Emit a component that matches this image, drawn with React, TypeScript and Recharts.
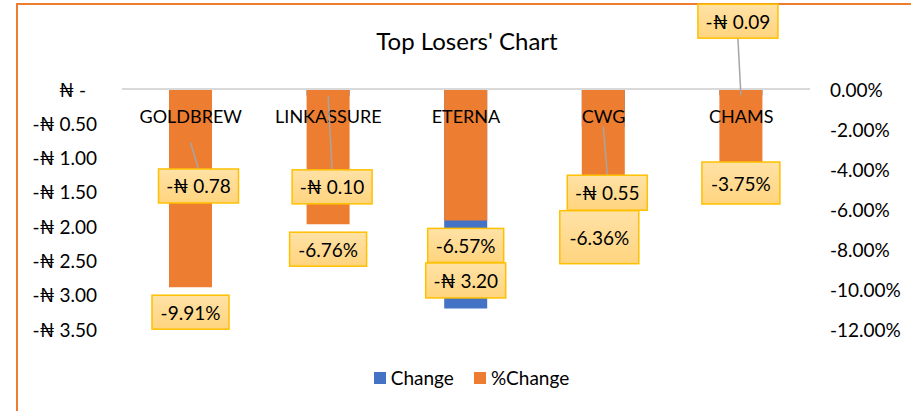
import React from 'react';
import { BarChart, Bar, XAxis, YAxis, ReferenceLine, LabelList, Legend } from 'recharts';

const categories = ['GOLDBREW', 'LINKASSURE', 'ETERNA', 'CWG', 'CHAMS'];
const changeValues = [-0.78, -0.1, -3.2, -0.55, -0.09];
const pctChangeValues = [-9.91, -6.76, -6.57, -6.36, -3.75];
const leftTicks = [0, -0.5, -1, -1.5, -2, -2.5, -3, -3.5];
const rightTicks = [0, -2, -4, -6, -8, -10, -12];
const legendOrder = ['Change', '%Change'];

// label layout (relative to bar end), not data
const changeLabelLayout = [
  { dx: 8, dy: 43.5, w: 80, h: 34, leader: true },
  { dx: 4, dy: 91, w: 80, h: 34, leader: true },
  { dx: 0, dy: -28, w: 80, h: 35, leader: false },
  { dx: 4, dy: 66, w: 80, h: 35, leader: true },
  { dx: -3, dy: -74, w: 80, h: 34, leader: true },
];
const pctLabelLayout = [
  { dx: 0, dy: 25, w: 77, h: 34 },
  { dx: 0, dy: 25, w: 77, h: 34 },
  { dx: 0, dy: 25, w: 76, h: 34 },
  { dx: -4, dy: 21, w: 79, h: 53 },
  { dx: 0, dy: 19, w: 78, h: 42 },
];

const data = categories.map((name, i) => ({
  name,
  change: changeValues[i],
  pct: pctChangeValues[i],
}));

const FONT = 'Lato, "DejaVu Sans", sans-serif';
const BLUE = '#4472C4';
const ORANGE = '#ED7D31';

const fmtMoney = (v: number) => (v === 0 ? '₦ -' : '-₦ ' + Math.abs(v).toFixed(2));
const fmtPct = (v: number) => v.toFixed(2) + '%';

function BoxLabel(props: any) {
  const { x, y, width, height, value, index, layout, text, bg } = props;
  const L = layout[index];
  const cx = Number(x) + Number(width) / 2;
  const endY = Math.max(Number(y), Number(y) + Number(height));
  const bx = cx + L.dx;
  const by = endY + L.dy;
  const top = by - L.h / 2;
  const bottom = by + L.h / 2;
  let lineEndY = top;
  if (by < endY) lineEndY = bottom;
  return (
    <g>
      {L.leader ? (
        <line x1={cx} y1={endY} x2={bx} y2={lineEndY} stroke="#A5A5A5" strokeWidth={1.5} />
      ) : null}
      <rect
        x={bx - L.w / 2}
        y={top}
        width={L.w}
        height={L.h}
        fill={`url(#${bg})`}
        stroke="#FFC000"
        strokeWidth={1.5}
      />
      <text
        x={bx}
        y={by}
        textAnchor="middle"
        dominantBaseline="central"
        fontFamily={FONT}
        fontSize={19}
        fill="#000"
      >
        {text(value)}
      </text>
    </g>
  );
}

function LeftTick(props: any) {
  const { x, y, payload } = props;
  const v = payload.value;
  return (
    <text
      x={v === 0 ? x - 11 : x}
      y={y}
      textAnchor="end"
      dominantBaseline="central"
      fontFamily={FONT}
      fontSize={19}
      fill="#000"
    >
      {fmtMoney(v)}
    </text>
  );
}

function RightTick(props: any) {
  const { x, y, payload } = props;
  return (
    <text x={x} y={y} textAnchor="start" dominantBaseline="central" fontFamily={FONT} fontSize={19} fill="#000">
      {fmtPct(payload.value)}
    </text>
  );
}

function CatTick(props: any) {
  const { x, y, payload } = props;
  return (
    <text x={x} y={Number(y) + 27} textAnchor="middle" dominantBaseline="central" fontFamily={FONT} fontSize={18} fill="#000">
      {payload.value}
    </text>
  );
}

function LegendContent(props: any) {
  const items = (props.payload || [])
    .filter((p: any) => p.type !== 'none')
    .slice()
    .sort((a: any, b: any) => legendOrder.indexOf(a.value) - legendOrder.indexOf(b.value));
  return (
    <div style={{ display: 'flex', justifyContent: 'center', paddingLeft: 32, fontFamily: FONT, fontSize: 19 }}>
      {items.map((p: any) => (
        <div key={p.value} style={{ display: 'flex', alignItems: 'center', margin: '0 10px' }}>
          <div style={{ width: 12, height: 12, background: p.color, marginRight: 5 }} />
          <span style={{ color: '#000' }}>{p.value}</span>
        </div>
      ))}
    </div>
  );
}

export default function App() {
  return (
    <div style={{ position: 'absolute', left: 0, top: 0, width: 911, height: 411, overflow: 'hidden', background: '#fff' }}>
      <svg width={0} height={0} style={{ position: 'absolute' }}>
        <defs>
          <linearGradient id="lblbg" x1="0" y1="0" x2="0" y2="1">
            <stop offset="0%" stopColor="#FFE2A6" />
            <stop offset="100%" stopColor="#FFD47E" />
          </linearGradient>
        </defs>
      </svg>
      <div
        style={{
          position: 'absolute',
          left: 16,
          top: 3,
          width: 1000,
          height: 500,
          borderLeft: `2px solid ${ORANGE}`,
          borderTop: `2px solid ${ORANGE}`,
        }}
      />
      <div
        style={{
          position: 'absolute',
          left: 0,
          top: 26,
          width: 934,
          textAlign: 'center',
          fontFamily: FONT,
          fontSize: 24,
          color: '#000',
        }}
      >
        Top Losers' Chart
      </div>
      <div style={{ position: 'absolute', left: 0, top: 0 }}>
        <BarChart
          width={911}
          height={411}
          data={data}
          margin={{ top: 59, left: 22, right: 6, bottom: 82 }}
        >
          <XAxis
            xAxisId="a"
            dataKey="name"
            orientation="top"
            height={30}
            axisLine={false}
            tickLine={false}
            tickSize={0}
            tickMargin={0}
            tick={<CatTick />}
            interval={0}
          />
          <XAxis xAxisId="b" dataKey="name" hide />
          <XAxis xAxisId="c" dataKey="name" hide />
          <YAxis
            yAxisId="left"
            domain={[-3.5, 0]}
            ticks={leftTicks}
            width={100}
            axisLine={false}
            tickLine={false}
            tickSize={0}
            tickMargin={25}
            tick={<LeftTick />}
            interval={0}
          />
          <YAxis
            yAxisId="right"
            orientation="right"
            domain={[-12, 0]}
            ticks={rightTicks}
            width={95}
            axisLine={false}
            tickLine={false}
            tickSize={0}
            tickMargin={20}
            tick={<RightTick />}
            interval={0}
          />
          <ReferenceLine yAxisId="left" xAxisId="a" y={0} stroke="#D9D9D9" strokeWidth={2} />
          <Bar
            xAxisId="a"
            yAxisId="left"
            dataKey="change"
            name="Change"
            fill={BLUE}
            barSize={43}
            isAnimationActive={false}
          />
          <Bar
            xAxisId="b"
            yAxisId="right"
            dataKey="pct"
            name="%Change"
            fill={ORANGE}
            barSize={43}
            isAnimationActive={false}
          >
            <LabelList
              dataKey="pct"
              content={<BoxLabel layout={pctLabelLayout} text={(v: number) => fmtPct(v)} bg="lblbg" />}
            />
          </Bar>
          <Bar
            xAxisId="c"
            yAxisId="left"
            dataKey="change"
            fill="none"
            legendType="none"
            barSize={43}
            isAnimationActive={false}
          >
            <LabelList
              dataKey="change"
              content={<BoxLabel layout={changeLabelLayout} text={(v: number) => fmtMoney(v)} bg="lblbg" />}
            />
          </Bar>
          <Legend
            verticalAlign="middle"
            layout="horizontal"
            content={<LegendContent />}
            wrapperStyle={{ top: 366, left: 0, width: 911 }}
          />
        </BarChart>
      </div>
    </div>
  );
}
